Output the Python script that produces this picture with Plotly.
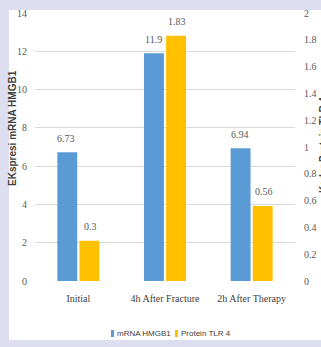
import plotly.graph_objects as go

# Data
categories = ["Initial", "4h After Fracture", "2h After Therapy"]
mrna_hmgb1 = [6.73, 11.9, 6.94]
protein_tlr4 = [0.3, 1.83, 0.56]
series_names = ["mRNA HMGB1", "Protein TLR 4"]
left_ticks = [0, 2, 4, 6, 8, 10, 12, 14]
right_ticks = [0, 0.2, 0.4, 0.6, 0.8, 1, 1.2, 1.4, 1.6, 1.8, 2]
right_tick_text = ["0", "0.2", "0.4", "0.6", "0.8", "1", "1.2", "1.4", "1.6", "1.8", "2"]

BLUE = "#5B9BD5"
YELLOW = "#FFC000"
LAVENDER = "#DDDFF1"
NUM_FONT = dict(family="Liberation Serif, serif", size=10, color="#595959")

W, H = 321, 347
ML, MR, MT, MB = 35, 26, 13, 66
PW, PH = W - ML - MR, H - MT - MB


def px_x(px):
    return (px - ML) / PW


def px_y(py):
    return (H - MB - py) / PH


fig = go.Figure()
fig.add_trace(go.Bar(
    x=categories, y=mrna_hmgb1, name=series_names[0],
    marker=dict(color=BLUE, line=dict(width=0)),
    offsetgroup="a", yaxis="y",
))
fig.add_trace(go.Bar(
    x=categories, y=protein_tlr4, name=series_names[1],
    marker=dict(color=YELLOW, line=dict(width=0)),
    offsetgroup="b", yaxis="y2",
))

# Value labels above each bar
annotations = []
for cat, v in zip(categories, mrna_hmgb1):
    annotations.append(dict(
        x=cat, y=v, xref="x", yref="y", text=f"{v:g}", showarrow=False,
        xshift=-12, yshift=14, yanchor="middle", font=NUM_FONT,
    ))
for cat, v in zip(categories, protein_tlr4):
    annotations.append(dict(
        x=cat, y=v, xref="x", yref="y2", text=f"{v:g}", showarrow=False,
        xshift=12, yshift=14, yanchor="middle", font=NUM_FONT,
    ))

# Axis titles
TITLE_FONT = dict(family="Liberation Sans, sans-serif", size=10, color="#404040")
annotations.append(dict(
    x=px_x(13), y=px_y(128), xref="paper", yref="paper", xanchor="center", yanchor="middle",
    text="<b>EKspresi mRNA HMGB1</b>", textangle=-90, showarrow=False, font=TITLE_FONT,
))
annotations.append(dict(
    x=px_x(323), y=px_y(145), xref="paper", yref="paper", xanchor="center", yanchor="middle",
    text="<b>Kadar Protein TLR 4</b>", textangle=-90, showarrow=False, font=TITLE_FONT,
))

# Compact legend along the bottom
LEGEND_FONT = dict(family="Liberation Sans, sans-serif", size=8, color="#404040")
shapes = [dict(
    type="rect", xref="paper", yref="paper", layer="below",
    x0=px_x(9), x1=px_x(340), y0=px_y(340), y1=px_y(10),
    fillcolor="white", line=dict(width=0),
)]
legend_items = [(series_names[0], BLUE, 111), (series_names[1], YELLOW, 175)]
for name, color, x0 in legend_items:
    shapes.append(dict(
        type="rect", xref="paper", yref="paper",
        x0=px_x(x0), x1=px_x(x0 + 3), y0=px_y(337), y1=px_y(330),
        fillcolor=color, line=dict(width=0),
    ))
    annotations.append(dict(
        x=px_x(x0 + 4), y=px_y(333.5), xref="paper", yref="paper",
        xanchor="left", yanchor="middle", text=name, showarrow=False, font=LEGEND_FONT,
    ))

fig.update_layout(
    width=W, height=H,
    margin=dict(l=ML, r=MR, t=MT, b=MB, autoexpand=False),
    paper_bgcolor=LAVENDER,
    plot_bgcolor="white",
    barmode="group",
    bargap=0.49,
    bargroupgap=0.1,
    showlegend=False,
    xaxis=dict(
        type="category",
        showgrid=False, showline=False, zeroline=False,
        ticks="", ticklabelstandoff=10,
        tickfont=dict(family="Liberation Serif, serif", size=10, color="#404040"),
    ),
    yaxis=dict(
        range=[0, 14], tickvals=left_ticks,
        showgrid=True, gridcolor="#D9D9D9", gridwidth=1,
        zeroline=False, showline=False, ticks="",
        ticklabelstandoff=7, tickfont=NUM_FONT,
    ),
    yaxis2=dict(
        range=[0, 2], tickvals=right_ticks, ticktext=right_tick_text,
        overlaying="y", side="right",
        showgrid=False, zeroline=False, showline=False, ticks="",
        ticklabelstandoff=8, tickfont=NUM_FONT,
    ),
    annotations=annotations,
    shapes=shapes,
)

fig.write_html("out.html")
